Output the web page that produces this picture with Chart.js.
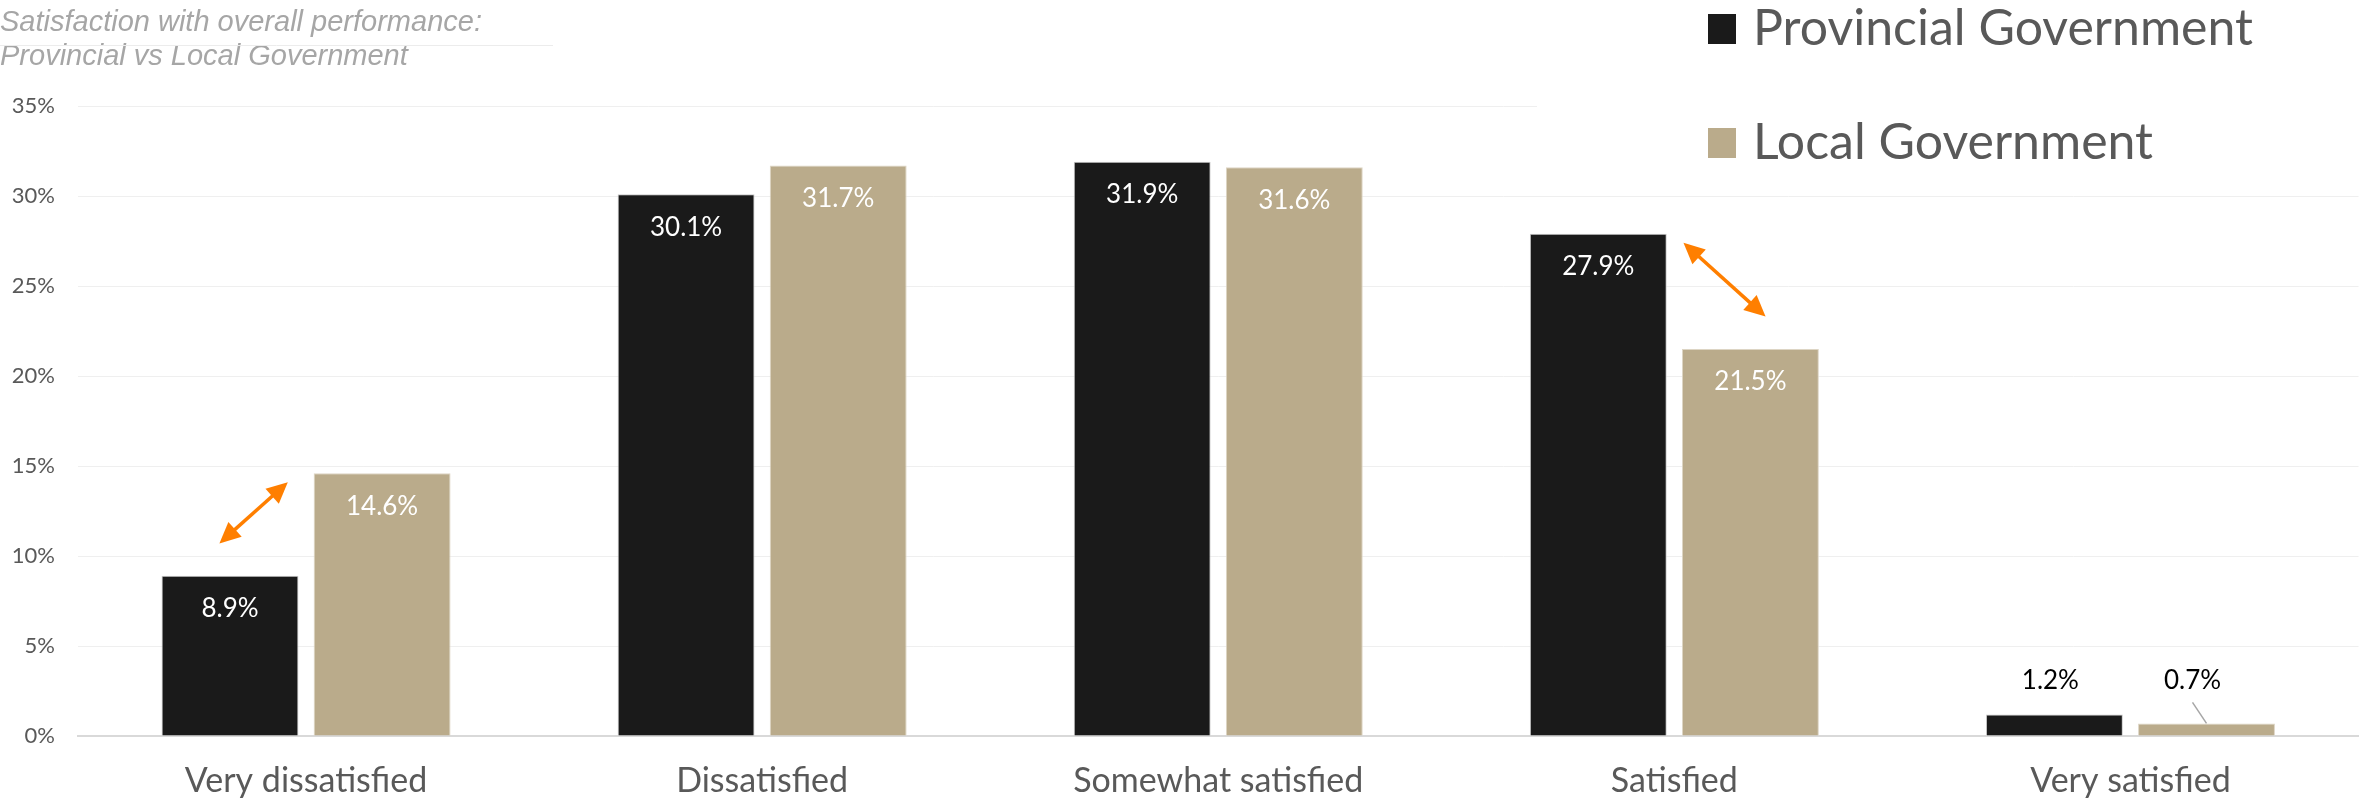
<!DOCTYPE html>
<html>
<head>
<meta charset="utf-8">
<script src="https://cdn.jsdelivr.net/npm/chart.js@4.4.1/dist/chart.umd.min.js"></script>
<style>
  html, body { margin: 0; padding: 0; background: #fff; }
  #wrap { width: 2374px; height: 801px; position: relative; }
</style>
</head>
<body>
<div id="wrap"><canvas id="chart"></canvas></div>
<script>
// chart data
const categories = ['Very dissatisfied', 'Dissatisfied', 'Somewhat satisfied', 'Satisfied', 'Very satisfied'];
const seriesNames = ['Provincial Government', 'Local Government'];
const provincial = [8.9, 30.1, 31.9, 27.9, 1.2];
const local = [14.6, 31.7, 31.6, 21.5, 0.7];
const yTicks = [0, 5, 10, 15, 20, 25, 30, 35];
const titleLines = ['Satisfaction with overall performance:', 'Provincial vs Local Government'];

const FONT = 'Lato, "Open Sans", sans-serif';
const colors = { provincial: '#1a1a1a', local: '#baab8b', arrow: '#ff7f00', text: '#595959' };

// orange double arrows, placed in category / value units
const arrowNotes = [
    { cat: 0, from: [-0.19, 10.7], to: [-0.04, 14.1] },
    { cat: 3, from: [0.02, 27.4], to: [0.2, 23.3] }
];

function drawArrowHead(ctx, x, y, ang) {
    const len = 21, half = 10;
    ctx.beginPath();
    ctx.moveTo(x, y);
    ctx.lineTo(x - len * Math.cos(ang) + half * Math.sin(ang), y - len * Math.sin(ang) - half * Math.cos(ang));
    ctx.lineTo(x - len * Math.cos(ang) - half * Math.sin(ang), y - len * Math.sin(ang) + half * Math.cos(ang));
    ctx.closePath();
    ctx.fill();
}

const overlay = {
    id: 'overlay',
    afterDatasetsDraw(chart) {
        const ctx = chart.ctx;
        const xs = chart.scales.x, ys = chart.scales.y;
        ctx.save();

        // value labels
        ctx.font = '26px ' + FONT;
        ctx.textAlign = 'center';
        ctx.textBaseline = 'middle';
        chart.data.datasets.forEach((ds, di) => {
            chart.getDatasetMeta(di).data.forEach((bar, i) => {
                const v = ds.data[i];
                const txt = v.toFixed(1) + '%';
                if (v >= 5) {
                    ctx.fillStyle = '#ffffff';
                    ctx.fillText(txt, bar.x, bar.y + 33);
                } else {
                    const ly = ys.getPixelForValue(Math.max(provincial[i], local[i])) - 34;
                    const lx = bar.x + (di === 1 ? -14 : -4);
                    ctx.fillStyle = '#000000';
                    ctx.fillText(txt, lx, ly);
                    if (bar.y - ly > 40) {
                        ctx.strokeStyle = '#a6a6a6';
                        ctx.lineWidth = 1.5;
                        ctx.beginPath();
                        ctx.moveTo(lx, ly + 22);
                        ctx.lineTo(bar.x, bar.y);
                        ctx.stroke();
                    }
                }
            });
        });

        // arrows
        const catW = xs.getPixelForValue(1) - xs.getPixelForValue(0);
        ctx.strokeStyle = colors.arrow;
        ctx.fillStyle = colors.arrow;
        ctx.lineWidth = 3.5;
        arrowNotes.forEach(a => {
            const cx = xs.getPixelForValue(a.cat);
            const x1 = cx + a.from[0] * catW, y1 = ys.getPixelForValue(a.from[1]);
            const x2 = cx + a.to[0] * catW, y2 = ys.getPixelForValue(a.to[1]);
            const ang = Math.atan2(y2 - y1, x2 - x1);
            ctx.beginPath();
            ctx.moveTo(x1 + 12 * Math.cos(ang), y1 + 12 * Math.sin(ang));
            ctx.lineTo(x2 - 12 * Math.cos(ang), y2 - 12 * Math.sin(ang));
            ctx.stroke();
            drawArrowHead(ctx, x2, y2, ang);
            drawArrowHead(ctx, x1, y1, ang + Math.PI);
        });
        ctx.restore();
    },
    afterDraw(chart) {
        const ctx = chart.ctx;
        ctx.save();

        // title
        ctx.font = 'italic 29px "Liberation Sans", Arial, sans-serif';
        ctx.fillStyle = '#a6a6a6';
        ctx.textAlign = 'left';
        ctx.textBaseline = 'middle';
        ctx.fillText(titleLines[0], 0, 23);
        ctx.fillText(titleLines[1], 0, 57);
        ctx.strokeStyle = '#ececec';
        ctx.lineWidth = 1;
        ctx.beginPath();
        ctx.moveTo(0, 45.5);
        ctx.lineTo(553, 45.5);
        ctx.stroke();

        // legend box
        ctx.fillStyle = '#ffffff';
        ctx.fillRect(1537, 0, 837, 170);
        ctx.font = '50px ' + FONT;
        const legendColors = [colors.provincial, colors.local];
        seriesNames.forEach((name, i) => {
            const cy = 29 + i * 114;
            ctx.fillStyle = legendColors[i];
            ctx.fillRect(1708, cy - 15, 28, 30);
            ctx.fillStyle = colors.text;
            ctx.fillText(name, 1753, cy);
        });
        ctx.restore();
    }
};

new Chart(document.getElementById('chart'), {
    type: 'bar',
    data: {
        labels: categories,
        datasets: [
            { label: seriesNames[0], data: provincial, backgroundColor: colors.provincial, borderColor: '#c8c8c8', borderWidth: 1 },
            { label: seriesNames[1], data: local, backgroundColor: colors.local, borderColor: '#ddd5c4', borderWidth: 1 }
        ]
    },
    options: {
        responsive: true,
        maintainAspectRatio: false,
        animation: false,
        datasets: { bar: { categoryPercentage: 0.667, barPercentage: 0.9 } },
        layout: { padding: { top: 106, right: 15.5, left: 0, bottom: 0 } },
        plugins: {
            legend: { display: false },
            title: { display: false },
            tooltip: { enabled: false }
        },
        scales: {
            x: {
                grid: { display: false, drawTicks: false },
                border: { display: true, color: '#d9d9d9', width: 2 },
                ticks: { color: colors.text, font: { family: FONT, size: 34 }, padding: 25 },
                afterFit: s => { s.height = 65; }
            },
            y: {
                min: yTicks[0],
                max: yTicks[yTicks.length - 1],
                afterBuildTicks: s => { s.ticks = yTicks.map(v => ({ value: v })); },
                grid: { color: '#efefef', lineWidth: 1, drawTicks: false },
                border: { display: false },
                ticks: {
                    color: colors.text,
                    font: { family: FONT, size: 22 },
                    padding: 23,
                    callback: v => v + '%'
                },
                afterFit: s => { s.width = 78; }
            }
        }
    },
    plugins: [overlay]
});
</script>
</body>
</html>
